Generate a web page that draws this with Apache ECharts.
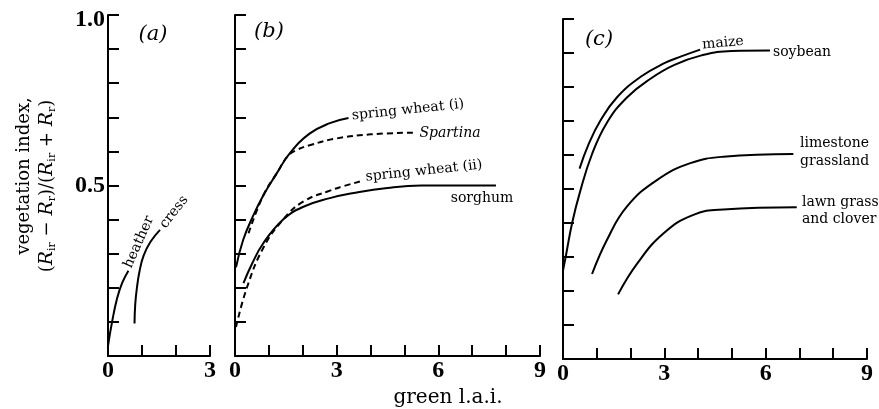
<!DOCTYPE html>
<html>
<head>
<meta charset="utf-8">
<script src="https://cdn.jsdelivr.net/npm/echarts@6/dist/echarts.min.js"></script>
<style>
html,body{margin:0;padding:0;background:#fff;}
#chart{width:879px;height:409px;}
</style>
</head>
<body>
<div id="chart"></div>
<script>
// ---- data (green l.a.i. , vegetation index) ----
var heatherX = [0, 0.12, 0.27, 0.42, 0.60];
var heatherY = [0.03, 0.10, 0.17, 0.215, 0.25];
var cressX = [0.78, 0.80, 0.85, 0.93, 1.05, 1.25, 1.53];
var cressY = [0.095, 0.15, 0.20, 0.25, 0.295, 0.335, 0.37];

var wheat1X = [0.03, 0.24, 0.53, 0.83, 1.24, 1.62, 2.2, 2.8, 3.35];
var wheat1Y = [0.26, 0.34, 0.41, 0.47, 0.537, 0.595, 0.652, 0.683, 0.698];
var spartinaX = [0.4, 0.83, 1.24, 1.55, 1.8, 2.2, 3.0, 4.0, 5.25];
var spartinaY = [0.36, 0.47, 0.537, 0.585, 0.603, 0.618, 0.638, 0.65, 0.655];
var wheat2X = [0.03, 0.35, 0.84, 1.42, 2.0, 2.8, 3.2, 3.7];
var wheat2Y = [0.085, 0.2, 0.318, 0.40, 0.452, 0.485, 0.498, 0.512];
var sorghumX = [0.25, 0.5, 0.83, 1.42, 2.0, 2.8, 3.5, 4.5, 5.5, 7.7];
var sorghumY = [0.214, 0.27, 0.33, 0.40, 0.437, 0.463, 0.478, 0.493, 0.5, 0.5];

var maizeX = [0.49, 0.75, 1.1, 1.6, 2.3, 3.0, 3.5, 4.06];
var maizeY = [0.56, 0.63, 0.70, 0.77, 0.83, 0.87, 0.89, 0.91];
var soybeanX = [0, 0.09, 0.27, 0.5, 0.85, 1.3, 1.9, 2.6, 3.3, 4.1, 5.0, 6.13];
var soybeanY = [0.26, 0.306, 0.40, 0.49, 0.60, 0.695, 0.77, 0.825, 0.865, 0.893, 0.906, 0.907];
var limestoneX = [0.86, 1.3, 1.89, 2.78, 3.77, 4.75, 6.82];
var limestoneY = [0.25, 0.35, 0.448, 0.526, 0.576, 0.595, 0.603];
var lawnX = [1.63, 2.19, 2.98, 3.86, 4.75, 6.92];
var lawnY = [0.19, 0.28, 0.37, 0.424, 0.44, 0.446];

var yTickLabels = {'0.5': '{m|0.5}', '1': '{t|1.0}'};
var xTickLabels = [0, 3, 6, 9];

function pairs(xs, ys){ return xs.map(function(x,i){ return [x, ys[i]]; }); }

var serif = "'DejaVu Serif', serif";
var numFont = "'Liberation Serif', serif";

function yAxis(idx, showLabels){
  return {
    type:'value', gridIndex: idx, min:0, max:1, interval:0.1,
    axisLine:{show:true, lineStyle:{color:'#000', width:2}},
    axisTick:{show:true, inside:true, length:11, lineStyle:{color:'#000', width:2}},
    splitLine:{show:false},
    axisLabel:{
      show: showLabels, margin:3, color:'#000',
      fontFamily:numFont, fontWeight:'bold', fontSize:24,
      rich:{
        t:{fontFamily:numFont, fontWeight:'bold', fontSize:24, color:'#000', padding:[10,0,0,0]},
        m:{fontFamily:numFont, fontWeight:'bold', fontSize:24, color:'#000'}
      },
      formatter:function(v){
        var k = String(Math.round(v*10)/10);
        return yTickLabels[k] || '';
      }
    }
  };
}
function xAxis(idx, max){
  return {
    type:'value', gridIndex: idx, min:0, max:max, interval:1,
    axisLine:{show:true, lineStyle:{color:'#000', width:2}},
    axisTick:{show:true, inside:true, length:11, lineStyle:{color:'#000', width:2}},
    splitLine:{show:false},
    axisLabel:{
      margin:3, color:'#000', fontFamily:numFont, fontWeight:'bold', fontSize:24,
      showMinLabel:true, showMaxLabel:true,
      formatter:function(v){ var r = Math.round(v); return xTickLabels.indexOf(r) >= 0 && Math.abs(v-r)<1e-6 ? String(r) : ''; }
    }
  };
}
function curve(name, idx, xs, ys, dashed){
  return {
    name:name, type:'line', xAxisIndex:idx, yAxisIndex:idx,
    data: pairs(xs, ys), smooth:0.45, showSymbol:false, symbol:'none',
    silent:true, animation:false,
    lineStyle:{color:'#000', width:2, type: dashed ? [6,4] : 'solid'}
  };
}
function label(text, x, y, opts){
  opts = opts || {};
  return {
    type:'text', x:x, y:y, rotation: opts.rot || 0, silent:true,
    style:{
      text:text, fill:'#000',
      font: (opts.italic ? 'italic ' : '') + (opts.size || 14) + 'px ' + (opts.family || serif),
      textAlign: opts.align || 'center', textVerticalAlign:'middle',
      rich: opts.rich
    }
  };
}

var chart = echarts.init(document.getElementById('chart'), null, {renderer:'canvas'});
chart.setOption({
  backgroundColor:'#fff',
  animation:false,
  grid:[
    {left:108, top:15, width:102, height:341},
    {left:235, top:15, width:305, height:341},
    {left:563, top:19, width:304, height:340}
  ],
  xAxis:[ xAxis(0,3), xAxis(1,9), xAxis(2,9) ],
  yAxis:[ yAxis(0,true), yAxis(1,false), yAxis(2,false) ],
  series:[
    curve('heather', 0, heatherX, heatherY, false),
    curve('cress', 0, cressX, cressY, false),
    curve('spring wheat (i)', 1, wheat1X, wheat1Y, false),
    curve('Spartina', 1, spartinaX, spartinaY, true),
    curve('spring wheat (ii)', 1, wheat2X, wheat2Y, true),
    curve('sorghum', 1, sorghumX, sorghumY, false),
    curve('maize', 2, maizeX, maizeY, false),
    curve('soybean', 2, soybeanX, soybeanY, false),
    curve('limestone grassland', 2, limestoneX, limestoneY, false),
    curve('lawn grass and clover', 2, lawnX, lawnY, false)
  ],
  graphic:[
    label('(a)', 153, 35, {italic:true, size:21}),
    label('(b)', 269, 32, {italic:true, size:21}),
    label('(c)', 599, 40, {italic:true, size:21}),
    label('heather', 139, 242, {rot: 66*Math.PI/180}),
    label('cress', 174, 212, {rot: 52*Math.PI/180}),
    label('spring wheat (i)', 408, 110, {rot: 6*Math.PI/180}),
    label('Spartina', 450, 133, {italic:true}),
    label('spring wheat (ii)', 424, 171, {rot: 6*Math.PI/180}),
    label('sorghum', 482, 198),
    label('maize', 723, 43, {rot: 5*Math.PI/180}),
    label('soybean', 773, 52, {align:'left'}),
    label('limestone', 800, 143, {align:'left'}),
    label('grassland', 800, 161, {align:'left'}),
    label('lawn grass', 802, 202, {align:'left'}),
    label('and clover', 802, 219, {align:'left'}),
    label('green l.a.i.', 448, 398, {size:20}),
    label('vegetation index,', 24, 176, {size:18, rot: Math.PI/2}),
    label('({i|R}{s|ir}{n| − }{i|R}{s|r}{n|)/(}{i|R}{s|ir}{n| + }{i|R}{s|r}{n|)}', 47, 186, {
      size:18, rot: Math.PI/2,
      rich:{
        i:{fontFamily:"'DejaVu Serif', serif", fontStyle:'italic', fontSize:19, fill:'#000'},
        s:{fontFamily:"'DejaVu Serif', serif", fontSize:11, fill:'#000', padding:[10,0,0,0]},
        n:{fontFamily:"'DejaVu Serif', serif", fontSize:18, fill:'#000'}
      }
    })
  ]
});
</script>
</body>
</html>
